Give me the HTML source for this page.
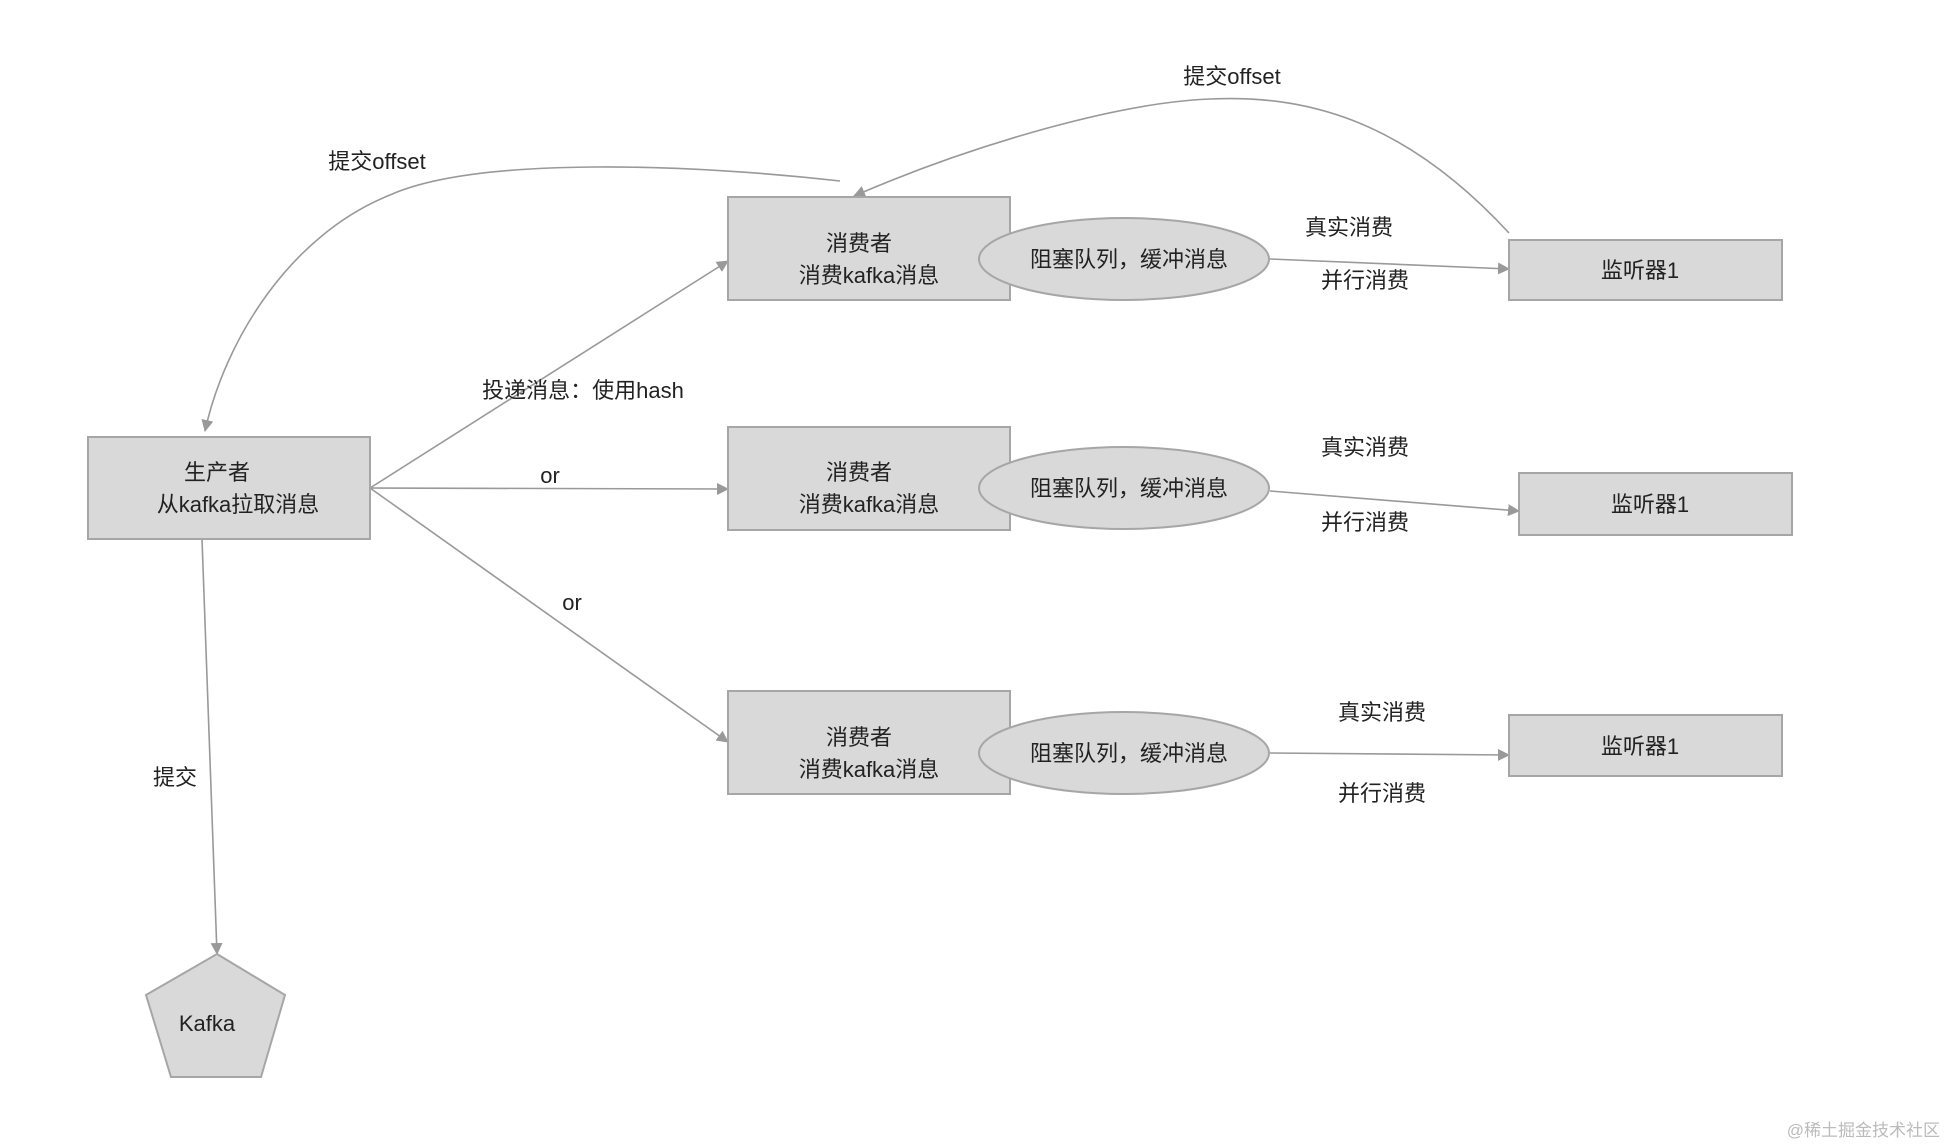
<!DOCTYPE html>
<html><head><meta charset="utf-8"><style>
html,body{margin:0;padding:0;background:#fff;}
body{width:1946px;height:1146px;position:relative;overflow:hidden;font-family:"Liberation Sans","Noto Sans CJK SC",sans-serif;}
svg{position:absolute;left:0;top:0;}
text{font-family:"Liberation Sans","Noto Sans CJK SC",sans-serif;font-size:22px;fill:#222;}
</style></head><body>
<svg width="1946" height="1146" viewBox="0 0 1946 1146">
<defs><marker id="a" markerWidth="12" markerHeight="12" refX="11" refY="6" orient="auto" markerUnits="userSpaceOnUse"><path d="M0,0 L12,6 L0,12 z" fill="#999"/></marker></defs>
<g fill="none" stroke="#999" stroke-width="1.6">
<path d="M370,488 L728,261" marker-end="url(#a)"/>
<path d="M370,488 L728,489" marker-end="url(#a)"/>
<path d="M370,488 L728,742" marker-end="url(#a)"/>
<path d="M202,539 L217,954" marker-end="url(#a)"/>
<path d="M1270,259 L1509,269" marker-end="url(#a)"/>
<path d="M1270,491 L1519,511" marker-end="url(#a)"/>
<path d="M1270,753 L1509,755" marker-end="url(#a)"/>
<path d="M840,181 C 700,165 480,155 390,195 C 290,235 225,340 205,431" marker-end="url(#a)"/>
<path d="M1509,233 C 1400,115 1300,95 1210,99 C 1110,103 960,150 854,196" marker-end="url(#a)"/>
</g>
<g fill="#d9d9d9" stroke="#a6a6a6" stroke-width="2">
<rect x="88" y="437" width="282" height="102"/>
<rect x="728" y="197" width="282" height="103"/>
<rect x="728" y="427" width="282" height="103"/>
<rect x="728" y="691" width="282" height="103"/>
<ellipse cx="1124" cy="259" rx="145" ry="41"/>
<ellipse cx="1124" cy="488" rx="145" ry="41"/>
<ellipse cx="1124" cy="753" rx="145" ry="41"/>
<rect x="1509" y="240" width="273" height="60"/>
<rect x="1519" y="473" width="273" height="62"/>
<rect x="1509" y="715" width="273" height="61"/>
<polygon points="217,954 285,995 261,1077 171,1077 146,995"/>
</g>
<g text-anchor="middle">
<text x="217" y="480">生产者</text><text x="238" y="512">从kafka拉取消息</text>
<text x="859" y="251">消费者</text><text x="869" y="283">消费kafka消息</text>
<text x="859" y="480">消费者</text><text x="869" y="512">消费kafka消息</text>
<text x="859" y="745">消费者</text><text x="869" y="777">消费kafka消息</text>
<text x="1129" y="267">阻塞队列，缓冲消息</text>
<text x="1129" y="496">阻塞队列，缓冲消息</text>
<text x="1129" y="761">阻塞队列，缓冲消息</text>
<text x="1640" y="278">监听器1</text>
<text x="1650" y="512">监听器1</text>
<text x="1640" y="754">监听器1</text>
<text x="207" y="1031">Kafka</text>
<text x="377" y="169">提交offset</text>
<text x="1232" y="84">提交offset</text>
<text x="583" y="398">投递消息：使用hash</text>
<text x="550" y="483">or</text>
<text x="572" y="610">or</text>
<text x="175" y="785">提交</text>
<text x="1349" y="235">真实消费</text>
<text x="1365" y="288">并行消费</text>
<text x="1365" y="455">真实消费</text>
<text x="1365" y="530">并行消费</text>
<text x="1382" y="720">真实消费</text>
<text x="1382" y="801">并行消费</text>
</g>
<text x="1940" y="1136" text-anchor="end" style="font-size:17px;fill:#bbb">@稀土掘金技术社区</text>
</svg>
</body></html>
